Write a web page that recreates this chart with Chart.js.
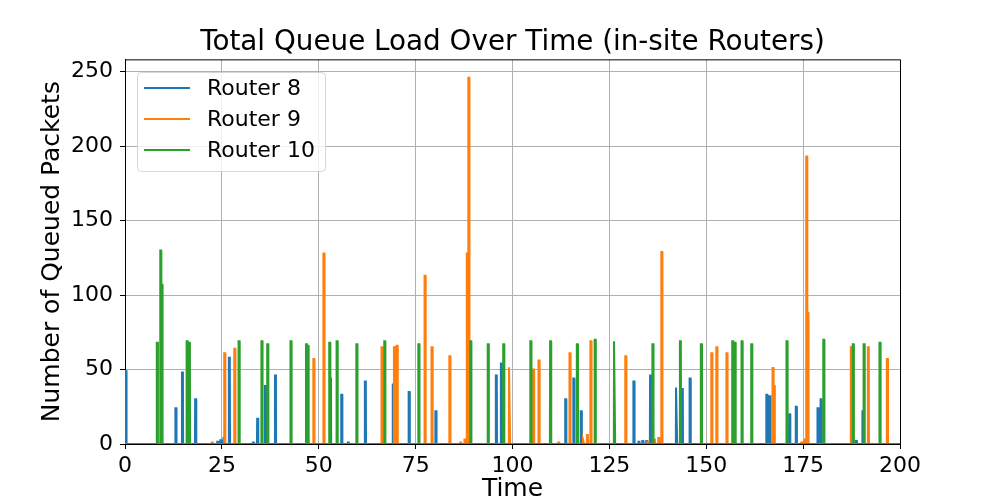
<!DOCTYPE html>
<html>
<head>
<meta charset="utf-8">
<script src="https://cdn.jsdelivr.net/npm/chart.js@4.4.1/dist/chart.umd.min.js"></script>
<style>
  body { margin: 0; background: #fff; }
  canvas { display: block; }
</style>
</head>
<body>
<canvas id="mycanvas" width="1000" height="500"></canvas>
<script>
// spike times (s) and peak queue sizes
var router8Times = [0.1, 13.0, 14.7, 18.1, 23.8, 24.6, 25.4, 26.8, 33.0, 34.1, 36.1, 38.7, 52.9, 55.8, 57.5, 61.9, 69.1, 73.2, 80.1,
  95.7, 97.0, 113.6, 115.7, 117.6, 131.2, 132.5, 133.5, 134.5, 135.5, 142.2, 143.7, 145.7, 165.5, 166.3, 171.4, 173.1,
  178.7, 179.5, 187.6, 188.6, 190.3];
var router8Peaks = [49, 24, 48, 30, 1.5, 2.5, 4, 58, 1, 17, 39, 46, 44, 33, 1, 42, 40, 35, 22,
  46, 54, 30, 44, 22, 42, 1.5, 2, 2, 46, 38, 37, 44, 33, 32, 20, 25,
  24, 30, 2, 2, 22];

var router9Times = [22.4, 25.6, 28.2, 48.6, 51.2, 66.2, 69.4, 70.1, 77.3, 79.1, 83.7, 86.5, 87.6, 88.2, 88.6, 99.1,
  105.3, 106.7, 111.8, 114.7, 118.2, 119.2, 120.1, 129.1, 134.8, 136.5, 137.6, 138.4, 151.3, 152.6, 155.2, 167.1,
  167.4, 174.5, 175.3, 175.8, 176.1, 187.3, 191.7, 196.6];
var router9Peaks = [1, 61, 64, 57, 128, 65, 65, 66, 113, 65, 59, 1, 3, 128, 246, 51.5,
  50, 56, 1, 61, 3, 6, 69, 59, 1.5, 3, 4, 129, 61, 65, 61, 51,
  39, 1, 3, 193, 88, 65, 65, 57];

var router10Times = [8.2, 9.1, 9.4, 15.9, 16.5, 29.3, 35.2, 36.7, 42.7, 46.7, 47.1, 52.7, 54.6, 59.7, 66.9, 75.7,
  89.1, 93.6, 97.6, 104.6, 109.7, 116.6, 121.2, 126.2, 136.1, 143.2, 148.6, 156.7, 157.3, 159.1, 161.6, 170.7,
  180.2, 187.8, 190.6, 194.7];
var router10Peaks = [68, 130, 107, 69, 68, 69, 69, 67, 69, 67, 66, 68, 69, 67, 69, 67,
  69, 67, 67, 69, 69, 67, 70, 69, 67, 69, 67, 69, 68, 69, 67, 69,
  70, 67, 67, 68];

var seriesLabels = ['Router 8', 'Router 9', 'Router 10'];
var seriesColors = ['#1f77b4', '#ff7f0e', '#2ca02c'];
var xTicks = [0, 25, 50, 75, 100, 125, 150, 175, 200];
var yTicks = [0, 50, 100, 150, 200, 250];

var FONT = 'DejaVu Sans';

// queue sits at 0 between spikes
function pulses(times, peaks) {
  var pts = [{x: 0, y: 0}];
  for (var i = 0; i < times.length; i++) {
    var t = times[i];
    pts.push({x: t - 0.05, y: 0}, {x: t, y: peaks[i]}, {x: t + 0.25, y: peaks[i]}, {x: t + 0.3, y: 0});
  }
  pts.push({x: 200, y: 0});
  return pts;
}

var legendBox = {
  id: 'legendBox',
  afterDatasetsDraw: function(chart) {
    var ctx = chart.ctx;
    var a = chart.chartArea;
    ctx.save();
    // top and right spines
    ctx.strokeStyle = '#000';
    ctx.lineWidth = 1;
    ctx.beginPath();
    ctx.moveTo(a.left, a.top + 0.5);
    ctx.lineTo(a.right + 0.5, a.top + 0.5);
    ctx.lineTo(a.right + 0.5, a.bottom);
    ctx.stroke();

    var x = 137, y = 72, w = 188, h = 99, r = 4;
    ctx.beginPath();
    ctx.roundRect(x + 0.5, y + 0.5, w, h, r);
    ctx.fillStyle = 'rgba(255,255,255,0.8)';
    ctx.fill();
    ctx.strokeStyle = 'rgba(204,204,204,0.8)';
    ctx.stroke();

    ctx.font = '22px "' + FONT + '"';
    ctx.textBaseline = 'middle';
    ctx.textAlign = 'left';
    for (var i = 0; i < seriesLabels.length; i++) {
      var ly = 88 + i * 31;
      ctx.strokeStyle = seriesColors[i];
      ctx.lineWidth = 2;
      ctx.beginPath();
      ctx.moveTo(144, ly);
      ctx.lineTo(190, ly);
      ctx.stroke();
      ctx.fillStyle = '#000';
      ctx.fillText(seriesLabels[i], 207, ly + 1);
    }
    ctx.restore();
  }
};

var ctx = document.getElementById('mycanvas');

var chart = new Chart(ctx, {
  type: 'line',
  data: {
    datasets: [
      {label: seriesLabels[0], data: pulses(router8Times, router8Peaks), borderColor: seriesColors[0], order: 3},
      {label: seriesLabels[1], data: pulses(router9Times, router9Peaks), borderColor: seriesColors[1], order: 2},
      {label: seriesLabels[2], data: pulses(router10Times, router10Peaks), borderColor: seriesColors[2], order: 1}
    ]
  },
  options: {
    responsive: false,
    animation: false,
    devicePixelRatio: 1,
    layout: {padding: {left: 0, right: 100, top: 0, bottom: 0}},
    elements: {
      line: {borderWidth: 2, tension: 0, fill: false},
      point: {radius: 0}
    },
    plugins: {
      legend: {display: false},
      tooltip: {enabled: false},
      title: {
        display: true,
        fullSize: false,
        text: 'Total Queue Load Over Time (in-site Routers)',
        color: '#000',
        font: {family: FONT, size: 27.8, weight: 'normal', lineHeight: 1.2},
        padding: {top: 26, bottom: 0}
      }
    },
    scales: {
      x: {
        type: 'linear',
        min: 0,
        max: 200,
        afterBuildTicks: function(s) { s.ticks = xTicks.map(function(v) { return {value: v}; }); },
        afterFit: function(s) { s.height = 56; },
        ticks: {color: '#000', font: {family: FONT, size: 22}, padding: 4, maxRotation: 0},
        grid: {color: '#b0b0b0', lineWidth: 1, tickColor: '#000', tickLength: 5},
        border: {color: '#000', width: 1},
        title: {display: true, text: 'Time', color: '#000', font: {family: FONT, size: 25, lineHeight: 1}, padding: {top: 0, bottom: -2}}
      },
      y: {
        min: 0,
        max: 258.3,
        afterBuildTicks: function(s) { s.ticks = yTicks.map(function(v) { return {value: v}; }); },
        afterFit: function(s) { s.width = 125; },
        ticks: {color: '#000', font: {family: FONT, size: 22}, padding: 7},
        grid: {color: '#b0b0b0', lineWidth: 1, tickColor: '#000', tickLength: 5},
        border: {color: '#000', width: 1},
        title: {display: true, text: 'Number of Queued Packets', color: '#000', font: {family: FONT, size: 25, lineHeight: 1}, padding: {top: 40, bottom: 0}}
      }
    }
  },
  plugins: [legendBox]
});
</script>
</body>
</html>
